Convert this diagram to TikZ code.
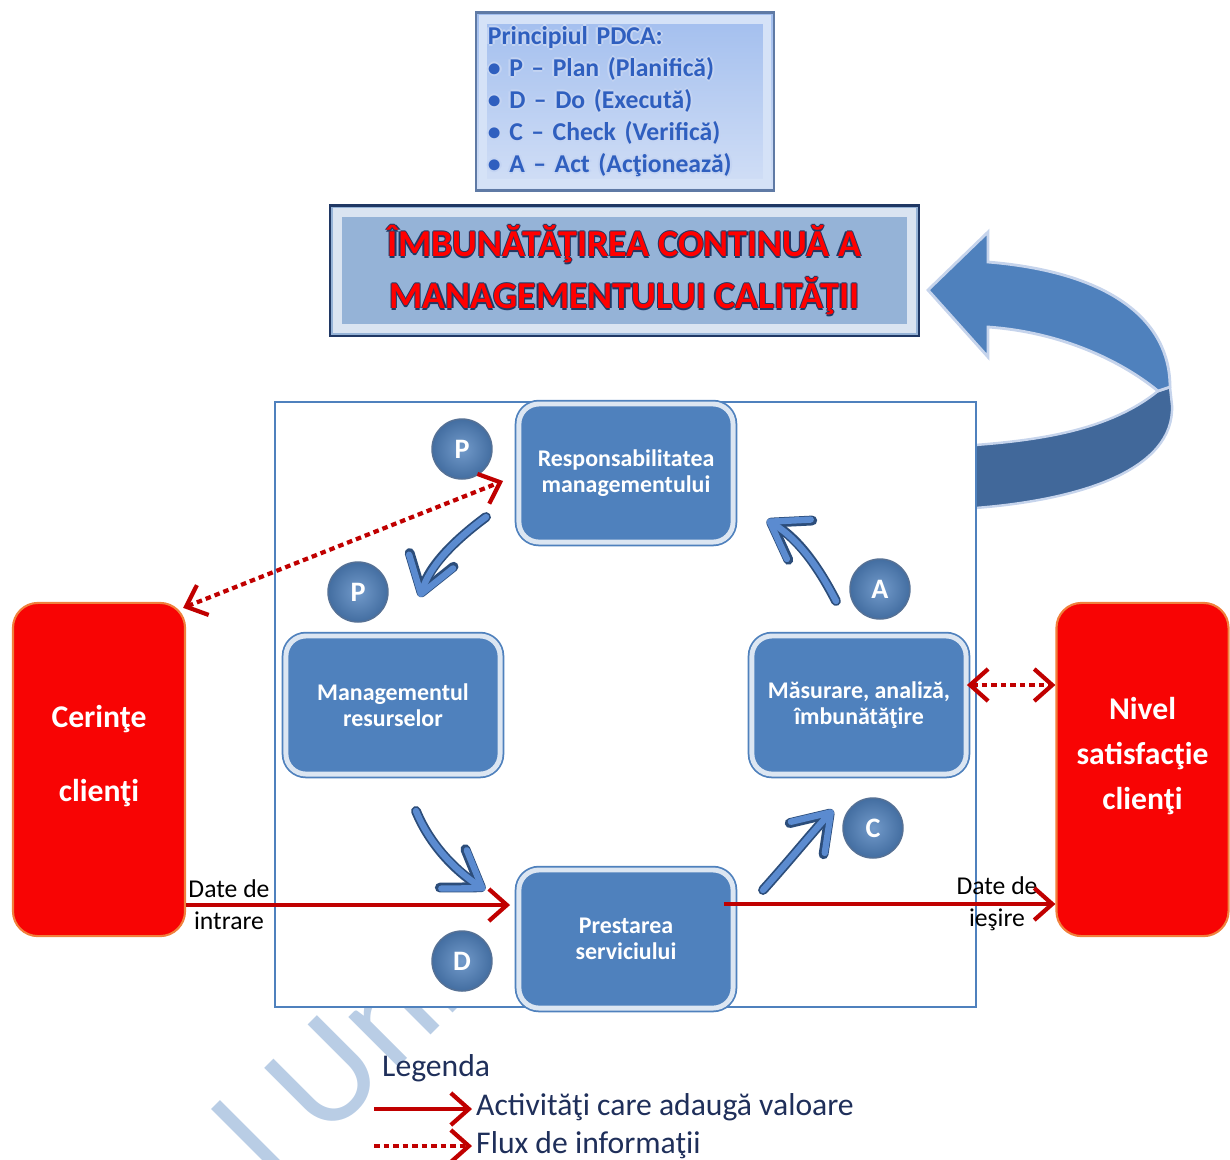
\documentclass[tikz,border=0pt]{standalone}
\usepackage{fontspec}
\setmainfont{Carlito}
\usetikzlibrary{arrows.meta}

\definecolor{boxblue}{HTML}{4F81BD}
\definecolor{boxpale}{HTML}{DCE6F2}
\definecolor{clientred}{HTML}{F80404}
\definecolor{clientedge}{HTML}{F0803C}
\definecolor{arrowred}{HTML}{C00000}
\definecolor{titlefill}{HTML}{95B3D7}
\definecolor{titleedge}{HTML}{203864}
\definecolor{pdcatop}{HTML}{A2BEEE}
\definecolor{pdcabot}{HTML}{D2DFF6}
\definecolor{pdcaedge}{HTML}{5F7AA5}
\definecolor{pdcatext}{HTML}{2F5FBF}
\definecolor{pdcahalo}{HTML}{C4D4F2}
\definecolor{cyclefill}{HTML}{5B8BD0}
\definecolor{cycleedge}{HTML}{2C4D7A}
\definecolor{ribbonlight}{HTML}{4F81BD}
\definecolor{ribbondark}{HTML}{41689A}
\definecolor{ribbonedge}{HTML}{C6D4EC}
\definecolor{legendnavy}{HTML}{1F2F5A}
\definecolor{markblue}{HTML}{B9CDE5}

% text with a thin outline round it
\newcommand\ringtext[4][.6pt]{\leavevmode\rlap{\color{#2}\kern-#1#4}\rlap{\color{#2}\kern#1#4}%
  \rlap{\color{#2}\raisebox{#1}{#4}}\rlap{\color{#2}\raisebox{-#1}{#4}}{\color{#3}#4}}
\newcommand\pdcaline[1]{\ringtext{pdcahalo}{pdcatext}{#1}}
\newcommand\titleline[1]{\ringtext[.35pt]{titleedge}{red}{#1}}
% lines set a little above the middle
\newcommand\liftup[1]{\raisebox{0.14cm}[\height][\depth]{\begin{tabular}{@{}c@{}}#1\end{tabular}}}

\begin{document}
\begin{tikzpicture}[x=0.01cm,y=-0.01cm,>={Straight Barb[length=1.8mm,width=3.2mm]},
  procbox/.style={rectangle,rounded corners=0.2cm,minimum width=2.14cm,minimum height=1.38cm,
    fill=boxblue,draw=boxblue,double=boxpale,double distance=1.4pt,line width=0.5pt,
    text=white,align=center,font=\bfseries\fontsize{6.8}{7.5}\selectfont},
  clientbox/.style={rectangle,rounded corners=0.25cm,minimum width=1.72cm,minimum height=3.33cm,
    fill=clientred,draw=clientedge,line width=0.6pt,text=white,
    font=\bfseries\fontsize{9}{12.8}\selectfont},
  sphere/.style={circle,minimum size=0.6cm,inner sep=0pt,draw=cycleedge!80,line width=0.4pt,
    shading=radial,inner color=boxblue!80!white,outer color=boxblue!85!black,text=white,
    font=\bfseries\fontsize{8}{8}\selectfont},
  bevel/.style={path picture={\draw[#1,line width=2.4pt]
    ([shift={(2pt,2pt)}]path picture bounding box.south west) rectangle
    ([shift={(-2pt,-2pt)}]path picture bounding box.north east);}},
  titlebox/.style={rectangle,minimum width=5.88cm,minimum height=1.30cm,fill=titlefill,
    draw=titleedge,line width=0.6pt,align=center,bevel=white!65!titlefill,
    font=\bfseries\fontsize{10.8}{14.8}\selectfont},
  pdcabox/.style={rectangle,minimum width=2.90cm,minimum height=1.73cm,top color=pdcatop,
    bottom color=pdcabot,draw=pdcaedge,line width=0.6pt,text width=2.74cm,align=left,
    bevel=white!55!pdcatop,font=\bfseries\fontsize{7.3}{9.1}\selectfont},
  flowarrow/.style={draw=arrowred,line width=1.2pt,->},
  infoflow/.style={draw=arrowred,line width=1.2pt,dash pattern=on 0.55mm off 0.4mm,<->},
  cyclearrow/.style={draw=cyclefill,line width=1.8pt,line cap=round,
    -{Straight Barb[round,length=3.4mm,width=4.6mm]},
    preaction={draw=cycleedge,line width=2.8pt,line cap=round,
      -{Straight Barb[round,length=3.4mm,width=4.6mm]}}},
  datalabel/.style={align=center,inner sep=0pt,font=\fontsize{7.3}{9.1}\selectfont},
  legendtext/.style={text=legendnavy,inner sep=1pt,font=\fontsize{9}{11}\selectfont}]
  \useasboundingbox (0,0) rectangle (1230,1159);

  % watermark
  \begin{scope}
    \clip (0,0) rectangle (1230,1159);
    \node[text=markblue,rotate=45,anchor=base west,inner sep=0pt,
      font=\fontsize{42}{42}\selectfont] (marca) at (276,1190) {l Univ};
  \end{scope}

  % ribbon arrow
  \fill[ribbondark,draw=ribbonedge,line width=0.7pt] (1158,391) .. controls (1110,430) and (1040,440) .. (975,445)
    -- (975,508) .. controls (1080,500) and (1175,470) .. (1172,405) -- (1170,387) -- cycle;
  \fill[ribbonlight,draw=ribbonedge,line width=0.8pt] (928,290) -- (988,232) -- (988,262)
    .. controls (1110,272) and (1170,320) .. (1170,387) -- (1158,391)
    .. controls (1120,360) and (1060,332) .. (988,327) -- (988,357) -- cycle;

  % frame
  \node[draw=boxblue,fill=white,line width=0.5pt,minimum width=7.01cm,minimum height=6.05cm] (cadru) at (625.5,704.5) {};

  % process
  \node[procbox] (resp) at (626,473) {Responsabilitatea\\managementului};
  \node[procbox] (resurse) at (393,705) {Managementul\\resurselor};
  \node[procbox] (masurare) at (859,705) {Măsurare, analiză,\\îmbunătăţire};
  \node[procbox] (prestare) at (626,939) {Prestarea\\serviciului};

  \node[sphere] (plan1) at (462,449) {P};
  \node[sphere] (plan2) at (358,592) {P};
  \node[sphere] (act) at (880,589) {A};
  \node[sphere] (check) at (873,828) {C};
  \node[sphere] (do) at (462,961) {D};

  \draw[cyclearrow] (486,517) .. controls (455,540) and (430,565) .. (420,597);
  \draw[cyclearrow] (416,811) .. controls (430,845) and (455,870) .. (485,890);
  \draw[cyclearrow] (763,890) .. controls (790,860) and (810,835) .. (833,810);
  \draw[cyclearrow] (836,601) .. controls (820,570) and (800,540) .. (767,520);

  % clients
  \node[clientbox] (cerinte) at (99,769.5) {\liftup{Cerinţe\\[8pt]clienţi}};
  \node[clientbox] (nivel) at (1142.5,769.5) {\liftup{Nivel\\satisfacţie\\clienţi}};

  \node[datalabel] (intrare) at (229,905) {Date de\\intrare};
  \node[datalabel] (iesire) at (997,904) {Date de\\ieşire};
  \draw[flowarrow] (cerinte.east |- intrare.center) -- ([xshift=-0.08cm]prestare.west |- intrare.center);
  \draw[flowarrow] ([xshift=-0.1cm]prestare.east |- iesire.center) -- (nivel.west |- iesire.center);
  \draw[infoflow] ([xshift=-0.03cm,yshift=-0.06cm]cerinte.north east) -- ([xshift=-0.15cm,yshift=-0.08cm]resp.west);
  \draw[infoflow] ([yshift=0.2cm]masurare.east) -- ([yshift=0.2cm]masurare.east -| nivel.west);

  % top
  \node[titlebox] (titlu) at (624.5,270.5) {\titleline{ÎMBUNĂTĂŢIREA CONTINUĂ A}\\\titleline{MANAGEMENTULUI CALITĂŢII}};
  \node[pdcabox] (pdca) at (625,101.5) {\pdcaline{Principiul PDCA:}\\\pdcaline{• P – Plan (Planifică)}\\
    \pdcaline{• D – Do (Execută)}\\\pdcaline{• C – Check (Verifică)}\\\pdcaline{• A – Act (Acţionează)}};

  % legend
  \node[legendtext,anchor=west] (legenda) at (378,1068) {Legenda};
  \node[legendtext,anchor=west] (valoare) at (472,1107) {Activităţi care adaugă valoare};
  \node[legendtext,anchor=west] (informatii) at (472,1145) {Flux de informaţii};
  \coordinate (v0) at (374,1109);
  \coordinate (i0) at (374,1146);
  \draw[flowarrow] (v0) -- (v0 -| valoare.west);
  \draw[infoflow,-{Straight Barb[length=1.8mm,width=3.2mm]}] (i0) -- (i0 -| informatii.west);
\end{tikzpicture}
\end{document}
